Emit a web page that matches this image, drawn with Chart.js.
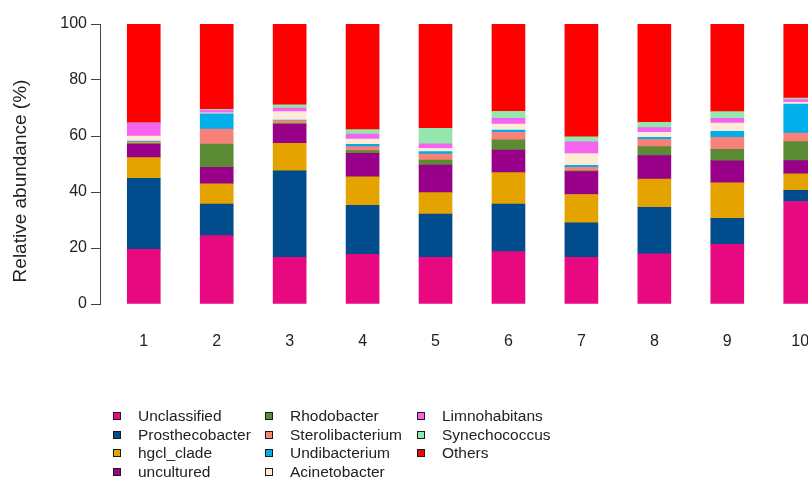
<!DOCTYPE html>
<html>
<head>
<meta charset="utf-8">
<script src="https://cdn.jsdelivr.net/npm/chart.js@4/dist/chart.umd.min.js"></script>
<style>
  html, body { margin: 0; padding: 0; background: #fff; overflow: hidden; width: 808px; height: 478px; }
  #wrap { position: relative; width: 844px; height: 478px; }
</style>
</head>
<body>
<div id="wrap"><canvas id="c" width="844" height="478"></canvas></div>
<script>
// Samples along the x axis
const samples = [1, 2, 3, 4, 5, 6, 7, 8, 9, 10];

// Relative abundance (%) of each genus per sample
const unclassified     = [19.5, 24.4, 16.7, 17.7, 16.7, 18.7, 16.7, 17.9, 21.3, 36.6];
const prosthecobacter  = [25.4, 11.3, 30.9, 17.5, 15.4, 17.0, 12.3, 16.6,  9.3,  4.0];
const hgclClade        = [ 7.4,  7.2,  9.8, 10.2,  7.7, 11.2, 10.1, 10.1, 12.7,  5.9];
const uncultured       = [ 4.7,  5.9,  6.8,  8.4,  9.8,  8.1,  8.2,  8.4,  7.8,  4.7];
const rhodobacter      = [ 0.4,  8.3,  0.3,  1.0,  1.8,  3.6,  0.3,  3.2,  4.1,  6.8];
const sterolibacterium = [ 0.5,  5.4,  1.0,  1.4,  2.1,  2.7,  1.2,  2.6,  4.3,  3.0];
const undibacterium    = [ 0.3,  5.4,  0.2,  0.8,  0.9,  0.8,  0.7,  0.7,  2.2, 10.4];
const acinetobacter    = [ 1.8,  0.4,  3.0,  1.9,  1.2,  2.2,  4.2,  1.8,  2.9,  0.6];
const limnohabitans    = [ 4.5,  0.9,  1.3,  1.8,  1.6,  2.0,  4.2,  1.7,  1.7,  1.0];
const synechococcus    = [ 0.2,  0.3,  1.1,  1.6,  5.5,  2.5,  1.8,  1.9,  2.4,  0.5];
const others           = [35.3, 30.5, 28.9, 37.7, 37.3, 31.2, 40.3, 35.1, 31.3, 26.5];

// Y axis ticks
const yTicks = [0, 20, 40, 60, 80, 100];
const yTitle = 'Relative abundance (%)';

const seriesNames = ['Unclassified', 'Prosthecobacter', 'hgcl_clade', 'uncultured',
  'Rhodobacter', 'Sterolibacterium', 'Undibacterium', 'Acinetobacter',
  'Limnohabitans', 'Synechococcus', 'Others'];
const seriesValues = [unclassified, prosthecobacter, hgclClade, uncultured,
  rhodobacter, sterolibacterium, undibacterium, acinetobacter,
  limnohabitans, synechococcus, others];
const seriesColors = ['#E8087F', '#004C8C', '#E5A300', '#98008A',
  '#5B8C35', '#F8827A', '#00AEEA', '#FDEBD6',
  '#F564F1', '#93E6AC', '#FF0000'];

const FONT = '"Liberation Sans", Arial, Helvetica, sans-serif';
const TEXT = '#222';

// Rotated y-axis title, set a little below the middle of the axis
const yAxisTitle = {
  id: 'yAxisTitle',
  afterDraw(chart) {
    const ctx = chart.ctx;
    ctx.save();
    ctx.translate(21, 181);
    ctx.rotate(-Math.PI / 2);
    ctx.font = '19px ' + FONT;
    ctx.fillStyle = TEXT;
    ctx.textAlign = 'center';
    ctx.textBaseline = 'middle';
    ctx.fillText(yTitle, 0, 0);
    ctx.restore();
  }
};

// Legend laid out column by column, four rows per column
const columnLegend = {
  id: 'columnLegend',
  afterDraw(chart) {
    const ctx = chart.ctx;
    const colX = [113, 265, 417];
    const rowY = [416, 434.5, 453, 471.5];
    ctx.save();
    ctx.font = '15.5px ' + FONT;
    ctx.textBaseline = 'middle';
    ctx.textAlign = 'left';
    chart.data.datasets.forEach((ds, i) => {
      const x = colX[Math.floor(i / 4)];
      const y = Math.round(rowY[i % 4]);
      ctx.fillStyle = ds.backgroundColor;
      ctx.fillRect(x, y - 4, 8, 8);
      ctx.strokeStyle = '#1a1a1a';
      ctx.lineWidth = 1;
      ctx.strokeRect(x + 0.5, y - 3.5, 7, 7);
      ctx.fillStyle = TEXT;
      ctx.fillText(ds.label, x + 25, y + 0.5);
    });
    ctx.restore();
  }
};

new Chart(document.getElementById('c'), {
  type: 'bar',
  data: {
    datasets: seriesNames.map((name, k) => ({
      label: name,
      data: seriesValues[k].map((v, i) => ({ x: samples[i], y: v })),
      backgroundColor: seriesColors[k],
      borderWidth: 0,
      barThickness: 33
    }))
  },
  options: {
    responsive: false,
    animation: false,
    layout: { padding: { top: 24, bottom: 114, left: 0, right: 0 } },
    plugins: { legend: { display: false }, tooltip: { enabled: false } },
    scales: {
      x: {
        type: 'linear',
        stacked: true,
        offset: false,
        min: 0.4,
        max: 10.6,
        grid: { display: false, drawTicks: false },
        border: { display: false },
        afterBuildTicks: s => { s.ticks = samples.map(v => ({ value: v })); },
        afterFit: s => { s.height = 60; },
        ticks: {
          padding: 28,
          color: TEXT,
          font: { size: 16, family: FONT },
          maxRotation: 0,
          autoSkip: false,
          callback: v => String(v)
        }
      },
      y: {
        stacked: true,
        min: 0,
        max: 100,
        afterBuildTicks: s => { s.ticks = yTicks.map(v => ({ value: v })); },
        afterFit: s => { s.width = 100; },
        ticks: { padding: 4, color: TEXT, font: { size: 16, family: FONT } },
        grid: { drawOnChartArea: false, drawTicks: true, tickLength: 9, color: '#444' },
        border: { display: true, color: '#444', width: 1 },
        title: { display: false }
      }
    }
  },
  plugins: [columnLegend, yAxisTitle]
});
</script>
</body>
</html>
